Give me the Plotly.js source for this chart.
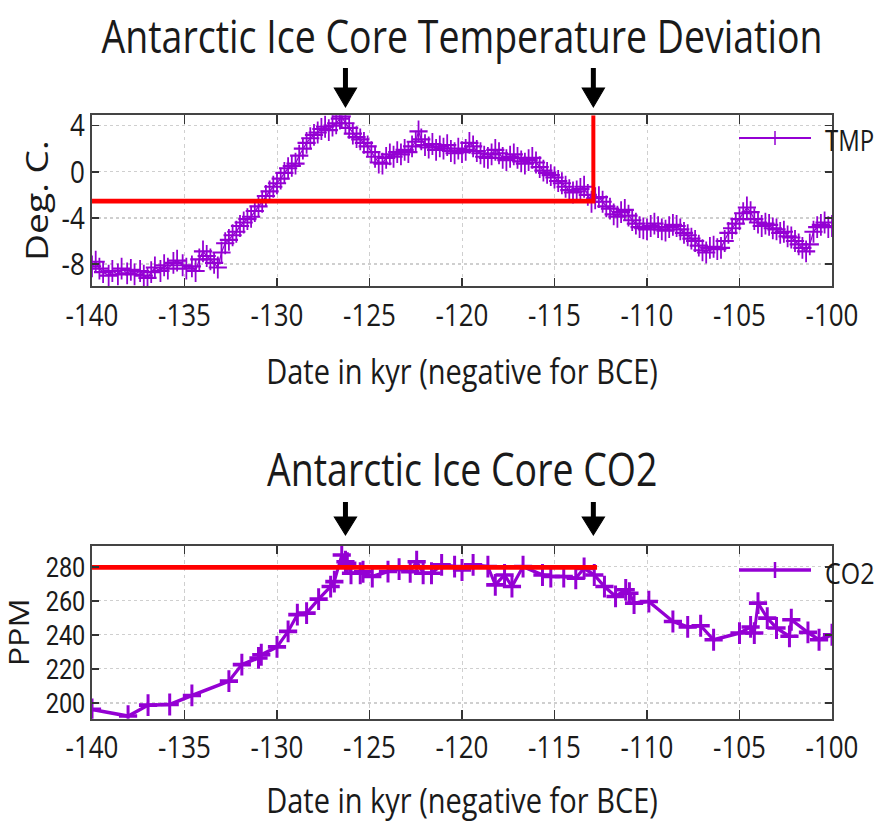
<!DOCTYPE html>
<html><head><meta charset="utf-8">
<script src="https://cdn.plot.ly/plotly-3.0.1.min.js"></script>
<style>
html,body{margin:0;padding:0;background:#fff;overflow:hidden;}
#wrap{width:877px;height:823px;overflow:hidden;position:relative;background:#fff;}
#plot{width:877px;height:686px;transform-origin:0 0;}
</style></head><body><div id="wrap"><div id="plot"></div></div>
<script>
// ---------- data ----------
const tmpDates = [-140.0,-139.8,-139.6,-139.4,-139.1,-138.9,-138.6,-138.4,-138.1,-137.9,-137.7,-137.4,-137.2,-137.0,-136.8,-136.6,-136.3,-136.1,-135.9,-135.6,-135.4,-135.1,-134.9,-134.6,-134.4,-134.2,-134.0,-133.8,-133.6,-133.4,-133.2,-133.0,-132.8,-132.6,-132.4,-132.2,-132.0,-131.8,-131.6,-131.4,-131.2,-131.0,-130.8,-130.6,-130.4,-130.2,-130.0,-129.8,-129.6,-129.4,-129.2,-129.0,-128.8,-128.6,-128.4,-128.2,-128.0,-127.8,-127.6,-127.4,-127.2,-127.0,-126.8,-126.6,-126.5,-126.3,-126.1,-125.9,-125.7,-125.5,-125.3,-125.1,-124.9,-124.7,-124.5,-124.3,-124.1,-123.9,-123.7,-123.5,-123.3,-123.1,-122.9,-122.7,-122.5,-122.35,-122.2,-122.0,-121.8,-121.6,-121.4,-121.2,-121.0,-120.8,-120.6,-120.4,-120.2,-120.0,-119.8,-119.6,-119.4,-119.2,-119.0,-118.8,-118.6,-118.4,-118.2,-118.0,-117.8,-117.6,-117.4,-117.2,-117.0,-116.8,-116.6,-116.4,-116.2,-116.0,-115.8,-115.6,-115.4,-115.2,-115.0,-114.8,-114.6,-114.4,-114.2,-114.0,-113.8,-113.6,-113.4,-113.2,-113.0,-112.8,-112.6,-112.4,-112.2,-112.0,-111.8,-111.6,-111.4,-111.2,-111.0,-110.8,-110.6,-110.4,-110.2,-110.0,-109.8,-109.6,-109.4,-109.2,-109.0,-108.8,-108.6,-108.4,-108.2,-108.0,-107.8,-107.6,-107.4,-107.2,-107.0,-106.8,-106.6,-106.4,-106.2,-106.0,-105.8,-105.6,-105.4,-105.2,-105.0,-104.8,-104.6,-104.4,-104.2,-104.0,-103.8,-103.6,-103.4,-103.2,-103.0,-102.8,-102.6,-102.4,-102.2,-102.0,-101.8,-101.6,-101.4,-101.2,-101.0,-100.8,-100.6,-100.4,-100.2,-100.0];
const tmpValues = [-8.2,-7.8,-8.4,-8.7,-9.0,-8.6,-8.9,-8.4,-8.8,-8.5,-8.9,-8.6,-9.0,-9.2,-8.7,-8.3,-8.6,-8.1,-8.4,-7.9,-7.7,-8.1,-8.4,-8.2,-8.6,-7.6,-6.9,-7.3,-7.6,-7.9,-8.3,-7.0,-6.2,-5.9,-5.5,-5.2,-4.7,-4.4,-4.1,-3.9,-3.4,-3.0,-2.6,-2.1,-1.7,-1.3,-1.0,-0.6,-0.1,0.3,0.5,0.7,1.4,2.0,2.5,2.9,3.2,3.4,3.7,3.9,3.6,4.0,4.2,4.6,4.8,4.2,3.8,3.3,3.0,2.8,2.5,2.2,1.7,1.3,0.8,0.7,1.2,1.5,1.3,1.7,1.5,1.9,1.7,2.2,2.6,3.5,2.8,2.3,2.1,2.4,1.9,2.2,2.0,2.3,1.8,1.6,2.0,1.7,1.9,2.5,2.2,1.8,1.6,1.3,1.2,1.5,1.9,1.6,1.2,1.0,1.3,1.5,1.2,0.9,0.7,1.0,1.2,0.8,0.4,0.1,-0.1,-0.3,-0.5,-0.8,-1.0,-1.3,-1.6,-1.8,-1.7,-1.5,-1.3,-2.0,-2.6,-2.3,-2.2,-2.6,-3.0,-3.2,-3.7,-3.9,-3.5,-3.3,-3.8,-4.2,-4.5,-4.8,-4.9,-5.0,-4.7,-4.5,-4.8,-5.0,-5.1,-4.8,-4.6,-4.7,-5.0,-5.3,-5.5,-5.8,-6.0,-6.4,-6.8,-7.0,-6.6,-6.5,-6.7,-6.6,-6.0,-5.3,-4.9,-4.5,-4.1,-3.6,-3.1,-3.5,-4.1,-4.4,-4.7,-4.5,-4.6,-4.9,-5.0,-5.3,-5.2,-5.6,-5.7,-6.0,-6.3,-6.6,-6.9,-6.3,-5.2,-4.8,-4.6,-4.4,-4.8,-4.7];
const co2Dates = [-140.0,-138.05,-136.97,-135.8,-134.6,-132.6,-131.9,-131.0,-130.85,-130.0,-129.4,-128.9,-128.4,-127.75,-127.1,-126.9,-126.5,-126.3,-126.2,-126.0,-125.5,-125.35,-124.85,-124.0,-123.4,-122.8,-122.45,-122.1,-121.65,-121.1,-120.4,-120.0,-119.4,-118.6,-118.2,-117.7,-117.3,-116.7,-115.65,-115.2,-114.5,-113.85,-113.4,-112.85,-112.3,-111.7,-111.15,-110.95,-110.7,-109.9,-108.6,-107.8,-107.1,-106.4,-105.0,-104.4,-104.2,-104.0,-103.5,-103.0,-102.3,-102.2,-101.3,-100.7,-100.0];
const co2Values = [196.2,192.3,198.7,199.1,204.4,212.8,222.5,226.4,228.3,232.9,242.0,251.8,252.7,260.9,268.3,271.2,286.8,282.9,282.0,276.1,276.1,277.0,274.2,277.1,278.5,277.0,282.9,276.1,276.1,281.0,280.0,278.0,281.0,280.0,269.3,275.1,268.3,280.0,275.1,274.2,274.2,273.2,279.0,275.1,268.3,262.5,266.4,264.4,258.6,259.5,247.8,244.6,245.3,237.1,241.0,244.6,241.0,258.6,249.8,244.0,239.1,248.8,241.4,237.1,240.0];
const eventDates = [-126.3, -112.9];
const tmpReference = -2.55;
const co2Reference = 279.5;
const xTickVals = [-140,-135,-130,-125,-120,-115,-110,-105,-100];
const xTickText = ["-140","-135","-130","-125","-120","-115","-110","-105","-100"];
const tmpTickVals = [-8,-4,0,4];
const tmpTickText = ["-8","-4","0","4"];
const co2TickVals = [200,220,240,260,280];
const co2TickText = ["200","220","240","260","280"];

// ---------- geometry ----------
const W = 877, H = 686, S = 823 / H;
document.getElementById('plot').style.transform = 'scaleY(' + S + ')';
const ML = 92, MR = 45, MT = 96, MB = 87;
const PH = H - MT - MB;
const py = sy => (H - MB - sy / S) / PH;      // screen y -> paper y
const px = sx => (sx - ML) / (W - ML - MR);   // screen x -> paper x

const purple = '#9400D3';
const red = '#FF0000';
const font = 'Open Sans, Noto Sans, sans-serif';
const txt = '#1a1a1a';

const traces = [
  {x: tmpDates, y: tmpValues, xaxis: 'x', yaxis: 'y', type: 'scatter', mode: 'lines+markers',
   name: 'TMP', line: {color: purple, width: 1.2},
   marker: {symbol: 'cross-thin', size: 13, color: purple, line: {color: purple, width: 1.8}}},
  {x: [tmpDates[0], eventDates[1], eventDates[1]], y: [tmpReference, tmpReference, 4.9],
   xaxis: 'x', yaxis: 'y', type: 'scatter', mode: 'lines', line: {color: red, width: 4}, hoverinfo: 'skip'},
  {x: co2Dates, y: co2Values, xaxis: 'x2', yaxis: 'y2', type: 'scatter', mode: 'lines+markers',
   name: 'CO2', line: {color: purple, width: 3},
   marker: {symbol: 'cross-thin', size: 13, color: purple, line: {color: purple, width: 3}}},
  {x: [co2Dates[0], -112.7], y: [co2Reference, co2Reference],
   xaxis: 'x2', yaxis: 'y2', type: 'scatter', mode: 'lines', line: {color: red, width: 4}, hoverinfo: 'skip'}
];

const axBase = {
  showline: true, linecolor: '#444', linewidth: 2, mirror: 'ticks',
  ticks: 'inside', ticklen: 7, tickwidth: 1.5, tickcolor: '#333',
  showgrid: true, gridcolor: '#cfcfcf', griddash: 'dot', gridwidth: 1,
  zeroline: false, tickfont: {family: font, size: 26, color: txt}, automargin: false
};

const titleFont = {family: font, size: 29, color: txt};
const layout = {
  width: W, height: H, paper_bgcolor: '#fff', plot_bgcolor: '#fff', showlegend: false,
  margin: {l: ML, r: MR, t: MT, b: MB},
  title: {text: 'Antarctic Ice Core Temperature Deviation', font: {family: font, size: 37.5, color: txt},
          x: 0.5, xref: 'paper', xanchor: 'center', y: 1 - (37 / S) / H, yref: 'container', yanchor: 'middle'},
  xaxis: Object.assign({}, axBase, {anchor: 'y', domain: [0, 1], range: [-140, -100],
          tickmode: 'array', tickvals: xTickVals, ticktext: xTickText,
          title: {text: 'Date in kyr (negative for BCE)', font: titleFont, standoff: 21}}),
  yaxis: Object.assign({}, axBase, {anchor: 'x', domain: [py(286), 1], range: [-9.9, 4.9],
          tickmode: 'array', tickvals: tmpTickVals, ticktext: tmpTickText,
          title: {text: 'Deg. C.', font: {family: font, size: 31, color: txt}, standoff: 4}}),
  xaxis2: Object.assign({}, axBase, {anchor: 'y2', domain: [0, 1], range: [-140, -100],
          tickmode: 'array', tickvals: xTickVals, ticktext: xTickText,
          title: {text: 'Date in kyr (negative for BCE)', font: titleFont, standoff: 20}}),
  yaxis2: Object.assign({}, axBase, {anchor: 'x2', domain: [0, py(546)], range: [190.8, 292.1],
          tickmode: 'array', tickvals: co2TickVals, ticktext: co2TickText,
          tickfont: {family: 'Roboto, Open Sans, sans-serif', size: 23.5, color: txt},
          title: {text: 'PPM', font: {family: font, size: 27, color: txt}, standoff: 8}}),
  annotations: [
    {text: 'Antarctic Ice Core CO2', xref: 'paper', yref: 'paper', x: 0.5, y: py(468),
     xanchor: 'center', yanchor: 'middle', showarrow: false, font: {family: font, size: 37.5, color: txt}},
    {text: 'TMP', xref: 'paper', yref: 'paper', x: px(823), y: py(140), xanchor: 'left', yanchor: 'middle',
     showarrow: false, font: {family: font, size: 24, color: txt}},
    {text: 'CO2', xref: 'paper', yref: 'paper', x: px(823), y: py(572), xanchor: 'left', yanchor: 'middle',
     showarrow: false, font: {family: font, size: 25, color: txt}}
  ],
  shapes: []
};

// legend backgrounds (mask gridlines) and samples
layout.shapes.push({type: 'rect', xref: 'paper', yref: 'paper', x0: px(727), x1: 1, y0: py(158), y1: 1,
  fillcolor: '#fff', line: {width: 0}, layer: 'between'});
layout.shapes.push({type: 'rect', xref: 'paper', yref: 'paper', x0: px(727), x1: 1, y0: py(582), y1: py(546),
  fillcolor: '#fff', line: {width: 0}, layer: 'between'});
layout.shapes.push({type: 'line', xref: 'paper', yref: 'paper', x0: px(739), x1: px(811), y0: py(138), y1: py(138),
  line: {color: purple, width: 1.5}});
layout.shapes.push({type: 'line', xref: 'paper', yref: 'paper', x0: px(775), x1: px(775), y0: py(131), y1: py(145),
  line: {color: purple, width: 1.5}});
layout.shapes.push({type: 'line', xref: 'paper', yref: 'paper', x0: px(739), x1: px(811), y0: py(570), y1: py(570),
  line: {color: purple, width: 3}});
layout.shapes.push({type: 'line', xref: 'paper', yref: 'paper', x0: px(775), x1: px(775), y0: py(562), y1: py(578),
  line: {color: purple, width: 2.5}});

// event arrows above each panel
function arrow(xd, xr, top, base, tip) {
  layout.shapes.push({type: 'line', xref: xr, yref: 'paper', x0: xd, x1: xd, y0: py(top), y1: py(base + 3),
    line: {color: '#000', width: 5}});
  layout.shapes.push({type: 'path', xref: xr, yref: 'paper',
    path: 'M' + (xd - 0.6) + ',' + py(base) + ' L' + (xd + 0.6) + ',' + py(base) + ' L' + xd + ',' + py(tip) + ' Z',
    fillcolor: '#000', line: {color: '#000', width: 1}});
}
eventDates.forEach(d => { arrow(d, 'x', 68, 88, 107); arrow(d, 'x2', 502, 517, 535); });

Plotly.newPlot('plot', traces, layout, {displayModeBar: false, staticPlot: true});
</script></body></html>
